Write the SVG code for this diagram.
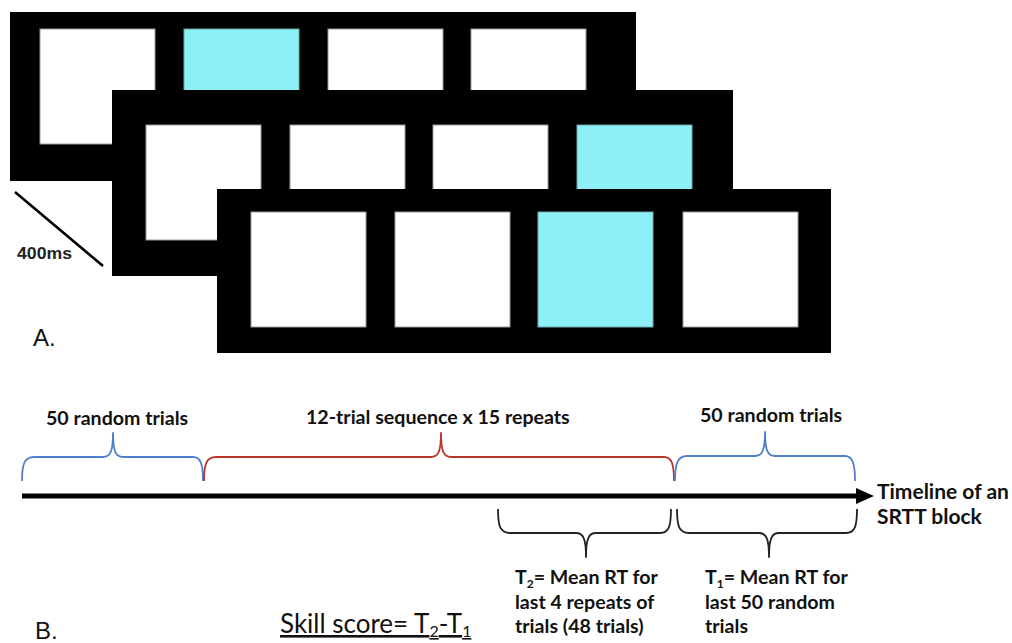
<svg xmlns="http://www.w3.org/2000/svg" width="1012" height="643" viewBox="0 0 1012 643">
  <style>
    .frame { fill: #000; }
    .sq { fill: #fff; stroke: #9a9a9a; stroke-width: 1; }
    .lit { fill: #8DF0F6; stroke: #6aa8ac; stroke-width: 1; }
    .brace { fill: none; stroke-width: 1.8; stroke-linejoin: round; }
    .blue { stroke: #4F7FCB; }
    .red { stroke: #B8362A; }
    .dark { stroke: #222; }
    .lbl { font-family: Lato, "Liberation Sans", sans-serif; font-weight: 700; font-size: 19.6px; fill: #111; }
    .big { font-size: 21px; }
    .panel { font-family: "Liberation Sans", Arial, sans-serif; font-size: 24px; fill: #111; }
  </style>

  <rect width="1012" height="643" fill="#fff"/>

  <!-- Panel A: three successive stimulus screens -->
  <g id="screen1">
    <rect class="frame" x="10" y="12" width="626" height="169"/>
    <rect class="sq" x="40" y="29" width="115" height="115"/>
    <rect class="lit" x="184" y="29" width="115" height="115"/>
    <rect class="sq" x="328" y="29" width="115" height="115"/>
    <rect class="sq" x="471" y="29" width="115" height="115"/>
  </g>
  <g id="screen2">
    <rect class="frame" x="112" y="90" width="621" height="186"/>
    <rect class="sq" x="146" y="125" width="115" height="115"/>
    <rect class="sq" x="290" y="125" width="115" height="115"/>
    <rect class="sq" x="433" y="125" width="115" height="115"/>
    <rect class="lit" x="577" y="125" width="115" height="115"/>
  </g>
  <g id="screen3">
    <rect class="frame" x="217" y="189" width="614" height="164"/>
    <rect class="sq" x="251" y="212" width="115" height="115"/>
    <rect class="sq" x="395" y="212" width="115" height="115"/>
    <rect class="lit" x="538" y="212" width="115" height="115"/>
    <rect class="sq" x="683" y="212" width="115" height="115"/>
  </g>
  <g id="interval">
    <line x1="15" y1="192" x2="103" y2="266" stroke="#000" stroke-width="2.6"/>
    <text x="17" y="259" font-family="'Liberation Sans', Arial, sans-serif" font-weight="700" font-size="16.5" fill="#222" textLength="55" lengthAdjust="spacingAndGlyphs">400ms</text>
  </g>
  <text class="panel" x="33" y="346">A.</text>

  <!-- Panel B: SRTT block timeline -->
  <g id="connectors">
    <line x1="22" y1="496" x2="858" y2="496" stroke="#000" stroke-width="5"/>
    <polygon points="856,488 874,496 856,504" fill="#000"/>
    <path class="brace blue" d="M22,481 C22,465 24,457 34,457 L103,457 C110,457 113,452 113,433 C113,452 116,457 123,457 L193,457 C201,457 203,465 203,481"/>
    <path class="brace red" d="M204,481 C204,465 206,457 216,457 L431,457 C438,457 441,452 441,433 C441,452 444,457 451,457 L664,457 C672,457 674,465 674,481"/>
    <path class="brace blue" d="M675,481 C675,465 677,456 687,456 L755,456 C762,456 765,451 765,432 C765,451 768,456 775,456 L845,456 C853,456 855,465 855,481"/>
    <path class="brace dark" d="M498,509 C498,526 500,533 510,533 L576,533 C583,533 586,538 586,557 C586,538 589,533 596,533 L660,533 C669,533 671,526 671,509"/>
    <path class="brace dark" d="M677,509 C677,526 679,533 689,533 L759,533 C766,533 769,538 769,557 C769,538 772,533 779,533 L846,533 C855,533 857,526 857,509"/>
  </g>

  <g id="random-start">
    <text class="lbl" x="46" y="425">50 random trials</text>
  </g>
  <g id="sequence">
    <text class="lbl" x="306" y="424">12-trial sequence x 15 repeats</text>
  </g>
  <g id="random-end">
    <text class="lbl" x="700" y="422">50 random trials</text>
  </g>
  <g id="timeline-label">
    <text class="lbl big" x="877" y="499">Timeline of an</text>
    <text class="lbl big" x="877" y="524">SRTT block</text>
  </g>
  <g id="t2">
    <text class="lbl" x="515" y="584">T<tspan font-size="12" dy="4">2</tspan><tspan dy="-4">= Mean RT for</tspan></text>
    <text class="lbl" x="515" y="609">last 4 repeats of</text>
    <text class="lbl" x="515" y="633">trials (48 trials)</text>
  </g>
  <g id="t1">
    <text class="lbl" x="705" y="584">T<tspan font-size="12" dy="4">1</tspan><tspan dy="-4">= Mean RT for</tspan></text>
    <text class="lbl" x="705" y="609">last 50 random</text>
    <text class="lbl" x="705" y="633">trials</text>
  </g>
  <g id="skill-score">
    <text x="280" y="633" font-family="Lato, 'Liberation Sans', sans-serif" font-size="26" fill="#111" text-decoration="underline">Skill score= T<tspan font-size="16" dy="4">2</tspan><tspan dy="-4">-T</tspan><tspan font-size="16" dy="4">1</tspan></text>
  </g>
  <text class="panel" x="35" y="639">B.</text>
</svg>
